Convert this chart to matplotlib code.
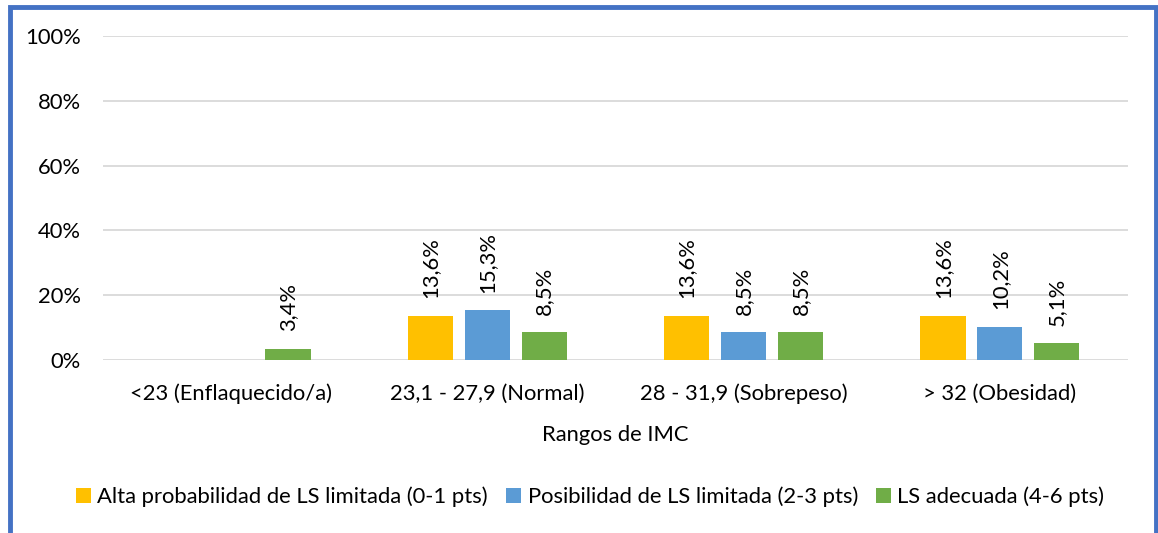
import matplotlib
matplotlib.use("Agg")
import matplotlib.pyplot as plt
from matplotlib.patches import Rectangle
import numpy as np

categories = ["<23 (Enflaquecido/a)", "23,1 - 27,9 (Normal)", "28 - 31,9 (Sobrepeso)", "> 32 (Obesidad)"]
series_names = ["Alta probabilidad de LS limitada (0-1 pts)", "Posibilidad de LS limitada (2-3 pts)", "LS adecuada (4-6 pts)"]
alta = [0.0, 13.6, 13.6, 13.6]
posib = [0.0, 15.3, 8.5, 10.2]
adecuada = [3.4, 8.5, 8.5, 5.1]
yticks = [0, 20, 40, 60, 80, 100]
colors = ["#FFC000", "#5B9BD5", "#70AD47"]

plt.rcParams['font.family'] = ['Lato', 'DejaVu Sans']
FS = 15.8

fig = plt.figure(figsize=(11.58, 5.33), dpi=100)
ax = fig.add_axes([103/1158, 1 - 360/533, (1128-103)/1158, (360-36)/533])

x = np.arange(len(categories))
step = 0.222
width = 0.176
all_series = [alta, posib, adecuada]
for i, (vals, name, c) in enumerate(zip(all_series, series_names, colors)):
    pos = x + (i - 1) * step
    ax.bar(pos, vals, width=width, color=c, label=name, zorder=3)
    for p, v in zip(pos, vals):
        if v > 0:
            ax.text(p, v + 5.5, f"{v:.1f}%".replace(".", ","), rotation=90,
                    ha="center", va="bottom", fontsize=FS, color="#000000")

ax.set_xlim(-0.5, len(categories) - 0.5)
ax.set_ylim(0, 100)
ax.set_yticks(yticks)
ax.set_yticklabels([f"{t}%" for t in yticks], fontsize=FS)
ax.set_xticks(x)
ax.set_xticklabels(categories, fontsize=FS)
ax.tick_params(axis="both", length=0, colors="#000000")
ax.tick_params(axis="y", pad=16)
ax.tick_params(axis="x", pad=17)
ax.grid(axis="y", color="#D9D9D9", linewidth=1.3, zorder=0)
for s in ax.spines.values():
    s.set_visible(False)
ax.set_xlabel("Rangos de IMC", fontsize=FS, labelpad=15)

leg = fig.legend(loc="center", bbox_to_anchor=(590/1158, 1 - 497/533), ncol=3,
                 frameon=False, fontsize=FS, handlelength=0.7, handleheight=0.7,
                 handletextpad=0.3, columnspacing=0.8)

# blue border
fig.patches.append(Rectangle((10/1158, -0.05), (1156-10)/1158, 1 - 6.5/533 + 0.05,
                             transform=fig.transFigure, fill=False,
                             edgecolor="#4472C4", linewidth=3.5))

fig.savefig("out.png", dpi=100)
